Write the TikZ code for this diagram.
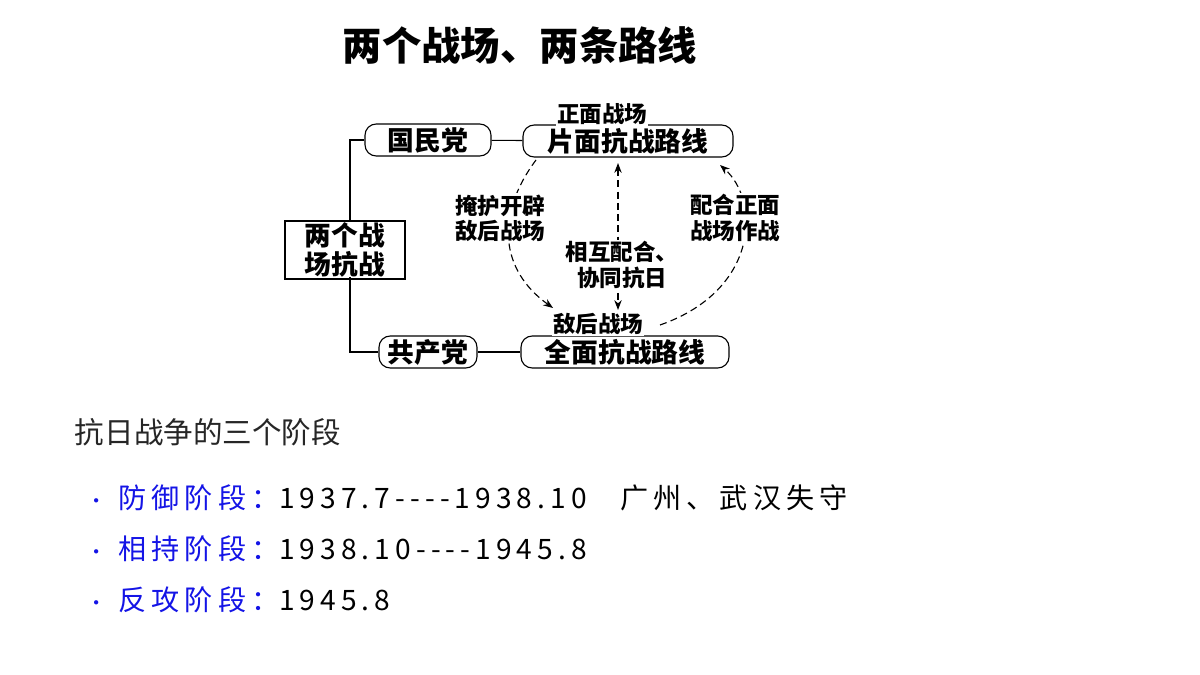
\documentclass[tikz,border=0pt]{standalone}
\usepackage{fontspec}
\setmainfont{Noto Sans CJK SC}
\usetikzlibrary{positioning}
\usetikzlibrary{arrows.meta}
\definecolor{darkblue}{RGB}{20,20,230}
\tikzset {
  % rounded party and route boxes
  main/.style = {draw, rounded corners=8pt, thick, minimum height=0.8cm, font=\fontsize{19}{21}\selectfont\bfseries, inner sep=1pt},
  % small labels on the dashed links
  lab/.style = {font=\fontsize{16}{18}\selectfont\bfseries, align=center, fill=white, inner sep=1pt},
  link/.style = {dash pattern=on 5pt off 3pt, thick, -{Stealth[length=7pt]}},
  line/.style = {draw, thick},
  item/.style = {anchor=west, font=\fontsize{20}{24}\selectfont\addfontfeature{LetterSpace=18}},
}
\begin{document}
\begin{tikzpicture}[x=0.025cm, y=-0.025cm]
      \useasboundingbox (0,0) rectangle (1200,675);

      \node[font=\fontsize{28}{32}\selectfont\bfseries] (title) at (520,45) {两个战场、两条路线};

      \node[main, minimum width=3.15cm] (gmd) at (428,140) {国民党};
      \node[main, minimum width=5.25cm] (pm) at (628,141) {片面抗战路线};
      \node[main, minimum width=2.45cm] (gcd) at (428,352) {共产党};
      \node[main, minimum width=5.2cm] (qm) at (625,352) {全面抗战路线};
      \node[draw, thick, minimum width=3cm, minimum height=1.38cm, align=left, inner sep=1pt, font=\fontsize{19}{21}\selectfont\bfseries] (two) at (345,250) {两个战\\场抗战};

      \node[lab] (zm) at (602,114) {正面战场};
      \node[lab] (dh) at (598,324) {敌后战场};

      \draw[line] (350,222) |- (gmd.west);
      \draw[line] (350,277) |- (gcd.west);
      \draw[line] (gmd) -- (pm);
      \draw[line] (gcd) -- (qm);

      % dashed links between the two battlefields
      \draw[link] (536,160) .. controls (495,215) and (500,270) .. (553,308);
      \draw[link, {Stealth[length=7pt]}-{Stealth[length=7pt]}] (618,163) -- (618,310);
      \draw[link] (660,325) .. controls (760,290) and (760,200) .. (720,165);

      \node[lab] (yh) at (500,218) {掩护开辟\\敌后战场};
      \node[lab] (xh) at (622,265) {相互配合、\\协同抗日};
      \node[lab] (ph) at (735,218) {配合正面\\战场作战};

      \node[anchor=west, font=\fontsize{21}{24}\selectfont, text=black!85] (stage) at (70,432) {抗日战争的三个阶段};

      \node[item] (b1) at (82,498) {\textcolor{darkblue}{{\Large\textbullet}\hspace{0.4em}防御阶段：}1937.7{-}{-}{-}{-}1938.10\hspace{1.2em}广州、武汉失守};
      \node[item] (b2) at (82,549) {\textcolor{darkblue}{{\Large\textbullet}\hspace{0.4em}相持阶段：}1938.10{-}{-}{-}{-}1945.8};
      \node[item] (b3) at (82,600) {\textcolor{darkblue}{{\Large\textbullet}\hspace{0.4em}反攻阶段：}1945.8};
\end{tikzpicture}
\end{document}
